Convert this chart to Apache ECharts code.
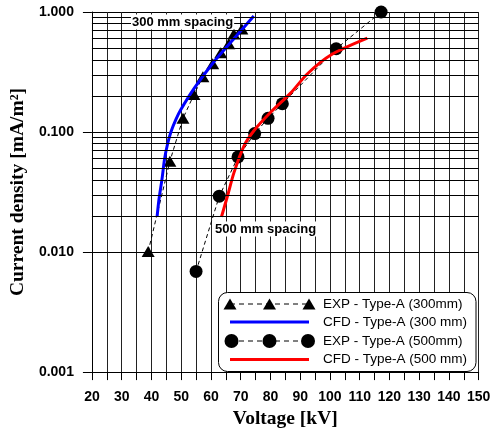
<!DOCTYPE html>
<html>
<head>
<meta charset="utf-8">
<script src="https://cdn.jsdelivr.net/npm/echarts@6/dist/echarts.min.js"></script>
<style>
  html, body { margin: 0; padding: 0; background: #fff; }
  #chart { width: 495px; height: 434px; }
</style>
</head>
<body>
<div id="chart"></div>
<script>
// Experimental current density, 300 mm electrode spacing (kV, mA/m²)
const exp300V = [38.9, 46.2, 50.6, 54.3, 57.3, 60.6, 63.3, 66.0, 67.7, 70.4];
const exp300J = [0.0101, 0.057, 0.13, 0.205, 0.289, 0.371, 0.457, 0.544, 0.657, 0.723];

// CFD prediction, 300 mm spacing
const cfd300V = [41.9, 42.55, 43.55, 44.4, 45.4, 46.6, 48.2, 49.9, 54.3, 61.0, 67.7, 74.4];
const cfd300J = [0.0197, 0.0277, 0.0405, 0.0594, 0.0791, 0.101, 0.127, 0.154, 0.230, 0.385, 0.598, 0.927];

// Experimental current density, 500 mm spacing
const exp500V = [55.0, 62.8, 69.1, 74.7, 79.2, 84.0, 102.1, 117.2];
const exp500J = [0.0069, 0.0292, 0.062, 0.097, 0.130, 0.172, 0.494, 1.0];

// CFD prediction, 500 mm spacing
const cfd500V = [63.55, 65.56, 67.77, 71.12, 74.37, 80.07, 86.77, 92.46, 100.17, 112.56];
const cfd500J = [0.0197, 0.0293, 0.0461, 0.0766, 0.102, 0.146, 0.211, 0.306, 0.436, 0.605];

// Axis ticks
const yDecades = [0.001, 0.01, 0.1, 1];
const minorMultipliers = [2, 3, 4, 5, 6, 7, 8, 9];

const legendNames = [
  'EXP - Type-A (300mm)',
  'CFD - Type-A (300 mm)',
  'EXP - Type-A (500mm)',
  'CFD - Type-A (500 mm)'
];

const zip = (xs, ys) => xs.map((x, i) => [x, ys[i]]);

// Minor horizontal grid lines at 2..9 within each decade
const minorLines = [];
yDecades.slice(0, -1).forEach(d => {
  minorMultipliers.forEach(m => minorLines.push({ yAxis: +(d * m).toPrecision(3) }));
});

const SANS = '"Liberation Sans", Arial, sans-serif';
const SERIF = '"Liberation Serif", "Times New Roman", serif';

const chart = echarts.init(document.getElementById('chart'), null, { renderer: 'canvas' });

// Legend drawn as graphic elements (three markers on dashed lines)
const LX0 = 230, LX1 = 269.5, LX2 = 309;
const rowY = [304, 322, 341, 359.5];
function tri(cx, cy) {
  return {
    type: 'polygon', z: 101,
    shape: { points: [[cx - 6.5, cy + 5.5], [cx + 6.5, cy + 5.5], [cx, cy - 5.5]] },
    style: { fill: '#000' }
  };
}
function dot(cx, cy) {
  return { type: 'circle', z: 101, shape: { cx: cx, cy: cy, r: 7 }, style: { fill: '#000' } };
}
function hline(y, color, width, dash) {
  return {
    type: 'line', z: 101,
    shape: { x1: LX0, y1: y, x2: LX2, y2: y },
    style: { stroke: color, lineWidth: width, lineDash: dash || null }
  };
}
function ltext(y, t) {
  return {
    type: 'text', z: 101, x: 323, y: y,
    style: { text: t, font: '13.5px ' + SANS, fill: '#000', textVerticalAlign: 'middle', verticalAlign: 'middle' }
  };
}

const graphics = [
  {
    type: 'rect', z: 100,
    shape: { x: 218.5, y: 292.5, width: 257.5, height: 79, r: 9 },
    style: { fill: '#fff', stroke: '#000', lineWidth: 1 }
  },
  hline(rowY[0], '#000', 1, [5, 4]), tri(LX0, rowY[0]), tri(LX1, rowY[0]), tri(LX2, rowY[0]),
  hline(rowY[1], '#0000ff', 3),
  hline(rowY[2], '#000', 1, [5, 4]), dot(LX0 + 1.5, rowY[2]), dot(LX1, rowY[2]), dot(LX2 - 1, rowY[2]),
  hline(rowY[3], '#ff0000', 3),
  ltext(rowY[0], legendNames[0]),
  ltext(rowY[1], legendNames[1]),
  ltext(rowY[2], legendNames[2]),
  ltext(rowY[3], legendNames[3]),
  // Spacing annotations
  {
    type: 'text', z: 50, x: 131, y: 22,
    style: {
      text: '300 mm spacing', font: 'bold 13px ' + SANS, fill: '#000',
      verticalAlign: 'middle', textVerticalAlign: 'middle',
      backgroundColor: '#fff', padding: [1, 1, 1, 1]
    }
  },
  {
    type: 'text', z: 50, x: 214, y: 229,
    style: {
      text: '500 mm spacing', font: 'bold 13px ' + SANS, fill: '#000',
      verticalAlign: 'middle', textVerticalAlign: 'middle',
      backgroundColor: '#fff', padding: [1, 1, 1, 1]
    }
  }
];

const option = {
  animation: false,
  backgroundColor: '#fff',
  grid: { left: 90.7, right: 16.3, top: 12, bottom: 60, containLabel: false },
  xAxis: {
    type: 'value',
    min: 20, max: 150, interval: 5,
    name: 'Voltage [kV]',
    nameLocation: 'middle',
    nameGap: 35,
    nameTextStyle: { fontFamily: SERIF, fontWeight: 'bold', fontSize: 19.5, color: '#000' },
    axisLine: { show: true, onZero: false, lineStyle: { color: '#000', width: 1 } },
    axisTick: { show: true, inside: false, length: 8, lineStyle: { color: '#000' } },
    axisLabel: {
      margin: 18, color: '#000', fontFamily: SANS, fontWeight: 'bold', fontSize: 14,
      formatter: v => (v % 10 === 0 ? String(v) : '')
    },
    splitLine: { show: true, lineStyle: { color: '#222', width: 1 } }
  },
  yAxis: {
    type: 'log',
    logBase: 10,
    min: 0.001, max: 1,
    name: 'Current density [mA/m²]',
    nameLocation: 'middle',
    nameGap: 52,
    nameTextStyle: { fontFamily: SERIF, fontWeight: 'bold', fontSize: 19.5, color: '#000' },
    axisLine: { show: true, onZero: false, lineStyle: { color: '#000', width: 1 } },
    axisTick: { show: true, inside: false, length: 9, lineStyle: { color: '#000' } },
    axisLabel: {
      margin: 18, color: '#000', fontFamily: SANS, fontWeight: 'bold', fontSize: 14,
      formatter: v => Number(v).toFixed(3)
    },
    splitLine: { show: true, lineStyle: { color: '#000', width: 1 } }
  },
  graphic: graphics,
  series: [
    {
      // carrier for the minor horizontal grid lines
      type: 'line', data: [], silent: true,
      markLine: {
        silent: true, symbol: 'none', animation: false,
        label: { show: false },
        lineStyle: { color: '#000', width: 1, type: 'solid' },
        data: minorLines
      },
      z: 1
    },
    {
      name: legendNames[0], type: 'line', z: 3,
      data: zip(exp300V, exp300J),
      symbol: 'triangle', symbolSize: [13, 11],
      itemStyle: { color: '#000' },
      lineStyle: { color: '#000', width: 1, type: [4, 3] }
    },
    {
      name: legendNames[2], type: 'line', z: 3,
      data: zip(exp500V, exp500J),
      symbol: 'circle', symbolSize: 13,
      itemStyle: { color: '#000' },
      lineStyle: { color: '#000', width: 1, type: [4, 3] }
    },
    {
      name: legendNames[1], type: 'line', z: 4,
      data: zip(cfd300V, cfd300J),
      smooth: 0.3, showSymbol: false, symbol: 'none',
      lineStyle: { color: '#0000ff', width: 3 }
    },
    {
      name: legendNames[3], type: 'line', z: 4,
      data: zip(cfd500V, cfd500J),
      smooth: 0.3, showSymbol: false, symbol: 'none',
      lineStyle: { color: '#ff0000', width: 3 }
    }
  ]
};

chart.setOption(option);
</script>
</body>
</html>
